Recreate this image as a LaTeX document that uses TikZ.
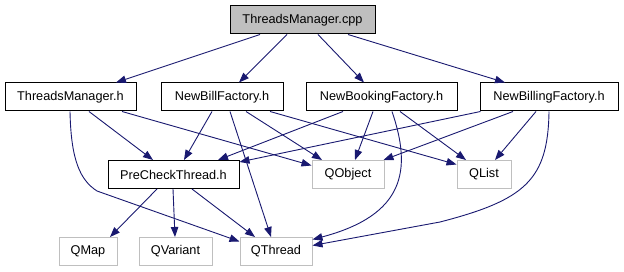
\documentclass[tikz,border=0pt]{standalone}
\usepackage{fontspec}
\setmainfont{Liberation Sans}
\usepackage{tikz}
\usetikzlibrary{arrows.meta, positioning, calc}

\definecolor{edgeblue}{HTML}{191970}
\definecolor{boxgray}{HTML}{BFBFBF}

\begin{document}
\begin{tikzpicture}[x=1pt, y=-1pt,
    every node/.style={font=\fontsize{12.7}{15}\selectfont, inner sep=0pt, minimum height=28pt},
    file/.style={draw=black, line width=1pt},
    root/.style={draw=black, line width=1pt, fill=boxgray},
    ext/.style={draw=boxgray, line width=1pt},
    inc/.style={draw=edgeblue, line width=0.9pt, -{Triangle[length=10pt, width=7.5pt]}}]
    \useasboundingbox (0,0) rectangle (624,272);

    \node[root, minimum width=145pt] (cpp) at (302.5,20) {ThreadsManager.cpp};

    \node[file, minimum width=131pt] (tmh) at (70.5,97) {ThreadsManager.h};
    \node[file, minimum width=122pt] (nbf) at (222,97) {NewBillFactory.h};
    \node[file, minimum width=151pt] (nbkf) at (381.5,97) {NewBookingFactory.h};
    \node[file, minimum width=138pt] (nblf) at (549,97) {NewBillingFactory.h};

    \node[file, minimum width=131pt] (pct) at (173.5,174.5) {PreCheckThread.h};
    \node[ext, minimum width=72pt] (qobj) at (348,174.5) {QObject};
    \node[ext, minimum width=54pt] (qlist) at (484,174.5) {QList};

    \node[ext, minimum width=58pt] (qmap) at (88,251.5) {QMap};
    \node[ext, minimum width=73pt] (qvar) at (175.5,251.5) {QVariant};
    \node[ext, minimum width=72pt] (qthr) at (276,251.5) {QThread};

    % ThreadsManager.cpp
    \draw[inc] ([xshift=-42.5pt]cpp.south) -- ([xshift=45.5pt]tmh.north);
    \draw[inc] ([xshift=-15.5pt]cpp.south) -- ([xshift=17pt]nbf.north);
    \draw[inc] ([xshift=15.5pt]cpp.south) -- ([xshift=-17.5pt]nbkf.north);
    \draw[inc] ([xshift=45.5pt]cpp.south) -- ([xshift=-44pt]nblf.north);

    % ThreadsManager.h
    \draw[inc] ([xshift=-0.5pt]tmh.south) .. controls (71,160) and (80,180) .. (97,191)
        -- ([yshift=10pt]qthr.west);
    \draw[inc] ([xshift=18.5pt]tmh.south) -- ([xshift=-20.5pt]pct.north);
    \draw[inc] ([xshift=51.5pt]tmh.south) -- ([yshift=9pt]qobj.west);

    % NewBillFactory.h
    \draw[inc] ([xshift=-10pt]nbf.south) -- ([xshift=10.5pt]pct.north);
    \draw[inc] ([xshift=8pt]nbf.south) -- ([xshift=-5pt]qthr.north);
    \draw[inc] ([xshift=24pt]nbf.south) -- ([xshift=-26pt]qobj.north);
    \draw[inc] ([xshift=48pt]nbf.south) -- ([yshift=10pt]qlist.west);

    % NewBookingFactory.h
    \draw[inc] ([xshift=-38.5pt]nbkf.south) -- ([xshift=44.5pt]pct.north);
    \draw[inc] ([xshift=-8.5pt]nbkf.south) -- ([xshift=7pt]qobj.north);
    \draw[inc] ([xshift=10.5pt]nbkf.south) .. controls (412,170) and (405,215)
        .. ([yshift=12pt]qthr.east);
    \draw[inc] ([xshift=18.5pt]nbkf.south) -- ([xshift=-18pt]qlist.north);

    % NewBillingFactory.h
    \draw[inc] ([xshift=1pt]nblf.south west) -- ([yshift=-2pt]pct.north east);
    \draw[inc] ([xshift=-36pt]nblf.south) -- ([xshift=-1pt]qobj.north east);
    \draw[inc] ([xshift=-13pt]nblf.south) -- ([xshift=11pt]qlist.north);
    \draw[inc] (nblf.south) .. controls (548,180) and (525,200) .. (440,222)
        -- ([yshift=6pt]qthr.east);

    % PreCheckThread.h
    \draw[inc] ([xshift=-16.5pt]pct.south) -- ([xshift=22pt]qmap.north);
    \draw[inc] ([xshift=-0.5pt]pct.south) -- ([xshift=-0.5pt]qvar.north);
    \draw[inc] ([xshift=18.5pt]pct.south) -- ([xshift=-21pt]qthr.north);
\end{tikzpicture}
\end{document}
